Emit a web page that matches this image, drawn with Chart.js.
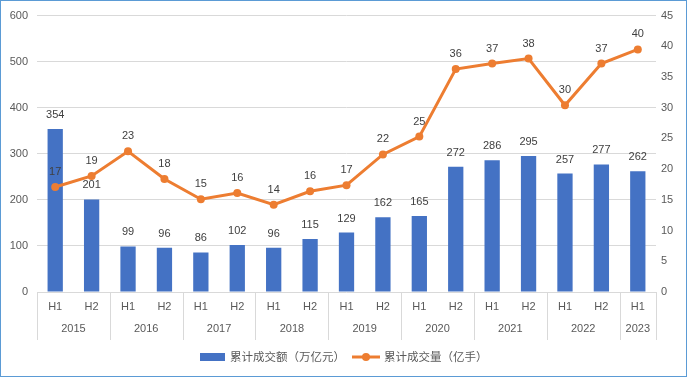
<!DOCTYPE html>
<html lang="zh">
<head>
<meta charset="UTF-8">
<title>累计成交额与成交量</title>
<script src="https://cdn.jsdelivr.net/npm/chart.js"></script>
<style>
    body { margin: 0; background: #fff; }
    #wrap { width: 687px; height: 377px; position: relative; }
    #chart { outline: 1px solid #5b9bd5; outline-offset: -1px; }
</style>
</head>
<body>
<div id="wrap"><canvas id="chart" width="687" height="377"></canvas></div>
<script>
// data
const halves = ["H1","H2","H1","H2","H1","H2","H1","H2","H1","H2","H1","H2","H1","H2","H1","H2","H1"];
const yearOf = ["2015","2015","2016","2016","2017","2017","2018","2018","2019","2019","2020","2020","2021","2021","2022","2022","2023"];
const turnover = [354, 201, 99, 96, 86, 102, 96, 115, 129, 162, 165, 272, 286, 295, 257, 277, 262];   // 万亿元
const volume = [17.1, 18.9, 22.9, 18.4, 15.1, 16.1, 14.2, 16.4, 17.4, 22.4, 25.3, 36.3, 37.2, 38.0, 30.4, 37.2, 39.5]; // 亿手
const leftTicks = [0, 100, 200, 300, 400, 500, 600];
const rightTicks = [0, 5, 10, 15, 20, 25, 30, 35, 40, 45];

const BLUE = "#4472c4";
const ORANGE = "#ed7d31";
const TXT = "#595959";
const FONT = '"Liberation Sans", "Noto Sans CJK SC", sans-serif';
const CJK = '"Noto Sans CJK SC", sans-serif';

// value labels, year row and legend
const extras = {
    id: "extras",
    afterDatasetsDraw(chart) {
        const ctx = chart.ctx;
        ctx.save();
        ctx.font = "11px " + FONT;
        ctx.fillStyle = "#404040";
        ctx.textAlign = "center";
        ctx.textBaseline = "middle";
        chart.data.datasets.forEach((ds, i) => {
            const meta = chart.getDatasetMeta(i);
            meta.data.forEach((el, j) => {
                const off = ds.type === "line" ? 15 : 14;
                ctx.fillText(Math.round(ds.data[j]), el.x, el.y - off);
            });
        });
        ctx.restore();
    },
    afterDraw(chart) {
        const ctx = chart.ctx;
        const x = chart.scales.x;
        const area = chart.chartArea;
        const half = (x.getPixelForValue(1) - x.getPixelForValue(0)) / 2;
        ctx.save();
        // year groups
        const groups = [];
        yearOf.forEach((y, i) => {
            const g = groups[groups.length - 1];
            if (g && g.year === y) g.last = i;
            else groups.push({ year: y, first: i, last: i });
        });
        ctx.strokeStyle = "#d9d9d9";
        ctx.lineWidth = 1;
        ctx.font = "11px " + FONT;
        ctx.fillStyle = TXT;
        ctx.textAlign = "center";
        ctx.textBaseline = "middle";
        groups.forEach((g, k) => {
            const l = x.getPixelForValue(g.first) - half;
            const r = x.getPixelForValue(g.last) + half;
            const xs = k === 0 ? [l, r] : [r];
            xs.forEach(px => {
                const p = Math.round(px) + 0.5;
                ctx.beginPath();
                ctx.moveTo(p, area.bottom);
                ctx.lineTo(p, area.bottom + 48);
                ctx.stroke();
            });
            ctx.fillText(g.year, (l + r) / 2, area.bottom + 37);
        });
        // legend
        const ds = chart.data.datasets;
        const barDs = ds.find(d => d.type === "bar");
        const lineDs = ds.find(d => d.type === "line");
        ctx.font = "11.5px " + CJK;
        ctx.textAlign = "left";
        const w1 = ctx.measureText(barDs.label).width;
        const w2 = ctx.measureText(lineDs.label).width;
        const total = 25 + 5 + w1 + 7 + 28 + 4 + w2;
        let lx = Math.round(chart.width / 2 - total / 2);
        const ly = 357;
        ctx.fillStyle = barDs.backgroundColor;
        ctx.fillRect(lx, ly - 4, 25, 8);
        lx += 30;
        ctx.fillStyle = TXT;
        ctx.fillText(barDs.label, lx, ly);
        lx += w1 + 7;
        ctx.strokeStyle = lineDs.borderColor;
        ctx.lineWidth = 3;
        ctx.beginPath();
        ctx.moveTo(lx, ly);
        ctx.lineTo(lx + 28, ly);
        ctx.stroke();
        ctx.fillStyle = lineDs.borderColor;
        ctx.beginPath();
        ctx.arc(lx + 14, ly, 4, 0, Math.PI * 2);
        ctx.fill();
        lx += 32;
        ctx.fillStyle = TXT;
        ctx.fillText(lineDs.label, lx, ly);
        ctx.restore();
    }
};

new Chart(document.getElementById("chart"), {
    type: "bar",
    data: {
        labels: halves,
        datasets: [
            {
                type: "line",
                label: "累计成交量（亿手）",
                data: volume,
                yAxisID: "y1",
                borderColor: ORANGE,
                backgroundColor: ORANGE,
                borderWidth: 3,
                pointRadius: 4,
                pointBackgroundColor: ORANGE,
                pointBorderWidth: 0,
                tension: 0,
                order: 0
            },
            {
                type: "bar",
                label: "累计成交额（万亿元）",
                data: turnover,
                yAxisID: "y",
                backgroundColor: BLUE,
                categoryPercentage: 1,
                barPercentage: 0.42,
                order: 1
            }
        ]
    },
    options: {
        responsive: false,
        animation: false,
        layout: { padding: { top: 15, left: 0, right: 0, bottom: 0 } },
        plugins: { legend: { display: false }, tooltip: { enabled: false } },
        scales: {
            x: {
                grid: { display: false, drawTicks: false },
                border: { display: false },
                ticks: { color: TXT, font: { family: FONT, size: 11 }, padding: 8, maxRotation: 0, autoSkip: false },
                afterFit(s) { s.height = 85; }
            },
            y: {
                position: "left",
                min: 0, max: 600,
                afterBuildTicks(s) { s.ticks = leftTicks.map(v => ({ value: v })); },
                grid: { color: "#d9d9d9", drawTicks: false },
                border: { display: false },
                ticks: { color: TXT, font: { family: FONT, size: 11 }, padding: 9 },
                afterFit(s) { s.width = 37; }
            },
            y1: {
                position: "right",
                min: 0, max: 45,
                afterBuildTicks(s) { s.ticks = rightTicks.map(v => ({ value: v })); },
                grid: { display: false, drawTicks: false },
                border: { display: false },
                ticks: { color: TXT, font: { family: FONT, size: 11 }, padding: 5 },
                afterFit(s) { s.width = 31; }
            }
        }
    },
    plugins: [extras]
});
</script>
</body>
</html>
